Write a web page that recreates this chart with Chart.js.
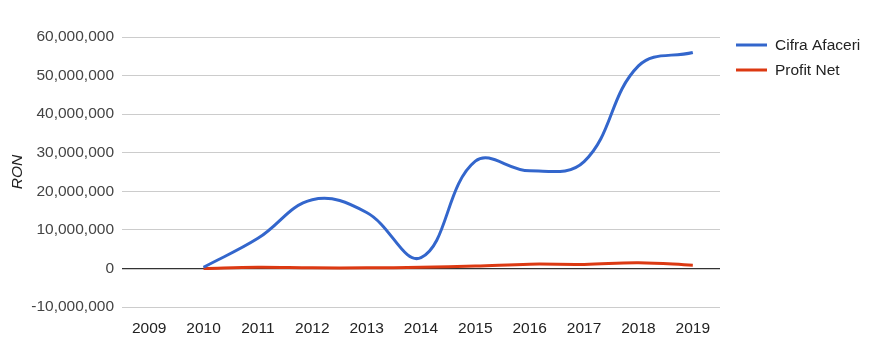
<!DOCTYPE html>
<html>
<head>
<meta charset="utf-8">
<script src="https://cdn.jsdelivr.net/npm/chart.js@4/dist/chart.umd.min.js"></script>
<style>
html,body{margin:0;padding:0;background:#fff;}
#wrap{position:relative;width:870px;height:355px;}
</style>
</head>
<body>
<div id="wrap"><canvas id="c" width="870" height="355"></canvas></div>
<script>
const years = ['2009','2010','2011','2012','2013','2014','2015','2016','2017','2018','2019'];
const cifraAfaceri = [null, 300000, 7800000, 17800000, 14500000, 2800000, 27800000, 25300000, 27700000, 52500000, 56000000];
const profitNet = [null, 0, 300000, 150000, 150000, 300000, 600000, 1100000, 1050000, 1500000, 850000];
const seriesNames = ['Cifra Afaceri', 'Profit Net'];
const seriesColors = ['#3366cc', '#dc3912'];
const yTitle = 'RON';

const FONT = '"Liberation Sans", Arial, sans-serif';
const FS = 15.5;

const legendPlugin = {
  id: 'sideLegend',
  afterDraw(chart) {
    const ctx = chart.ctx;
    const x0 = chart.chartArea.right + 16;
    ctx.save();
    ctx.font = FS + 'px ' + FONT;
    ctx.textBaseline = 'middle';
    seriesNames.forEach((n, i) => {
      const y = 45 + i * 25;
      ctx.strokeStyle = seriesColors[i];
      ctx.lineWidth = 3;
      ctx.beginPath();
      ctx.moveTo(x0, y);
      ctx.lineTo(x0 + 31, y);
      ctx.stroke();
      ctx.fillStyle = '#222';
      ctx.fillText(n, x0 + 39, y + 1);
    });
    ctx.restore();
  }
};

const fmt = v => Math.round(v).toLocaleString('en-US');

new Chart(document.getElementById('c'), {
  type: 'line',
  data: {
    labels: years,
    datasets: [
      { label: seriesNames[0], data: cifraAfaceri, borderColor: seriesColors[0], backgroundColor: seriesColors[0], borderWidth: 3, pointRadius: 0, tension: 0.4, fill: false, spanGaps: false },
      { label: seriesNames[1], data: profitNet, borderColor: seriesColors[1], backgroundColor: seriesColors[1], borderWidth: 3, pointRadius: 0, tension: 0.4, fill: false, spanGaps: false }
    ]
  },
  options: {
    responsive: false,
    animation: false,
    devicePixelRatio: 1,
    layout: { padding: { left: 8, right: 150, top: 37, bottom: 0 } },
    plugins: { legend: { display: false }, tooltip: { enabled: false } },
    scales: {
      x: {
        type: 'category',
        offset: true,
        grid: { display: false, drawTicks: false },
        border: { display: false },
        ticks: { color: '#222', font: { family: FONT, size: FS }, padding: 12, maxRotation: 0, autoSkip: false },
        afterFit(s) { s.height = 48; }
      },
      y: {
        min: -10000000,
        max: 60000000,
        grid: {
          drawTicks: false,
          color: c => c.tick.value === 0 ? '#333' : (c.tick.value % 10000000 === 0 ? '#cccccc' : '#ebebeb'),
          lineWidth: c => c.tick.value === 0 ? 1.3 : 1
        },
        border: { display: false },
        ticks: {
          stepSize: 5000000,
          color: '#444',
          font: { family: FONT, size: FS },
          padding: 8,
          callback: v => (v % 10000000 === 0 ? fmt(v) : '')
        },
        title: { display: true, text: yTitle, color: '#222', font: { family: FONT, size: FS, style: 'italic' }, padding: { top: 0, bottom: 0 } },
        afterFit(s) { s.width = 114; }
      }
    }
  },
  plugins: [legendPlugin]
});
</script>
</body>
</html>
